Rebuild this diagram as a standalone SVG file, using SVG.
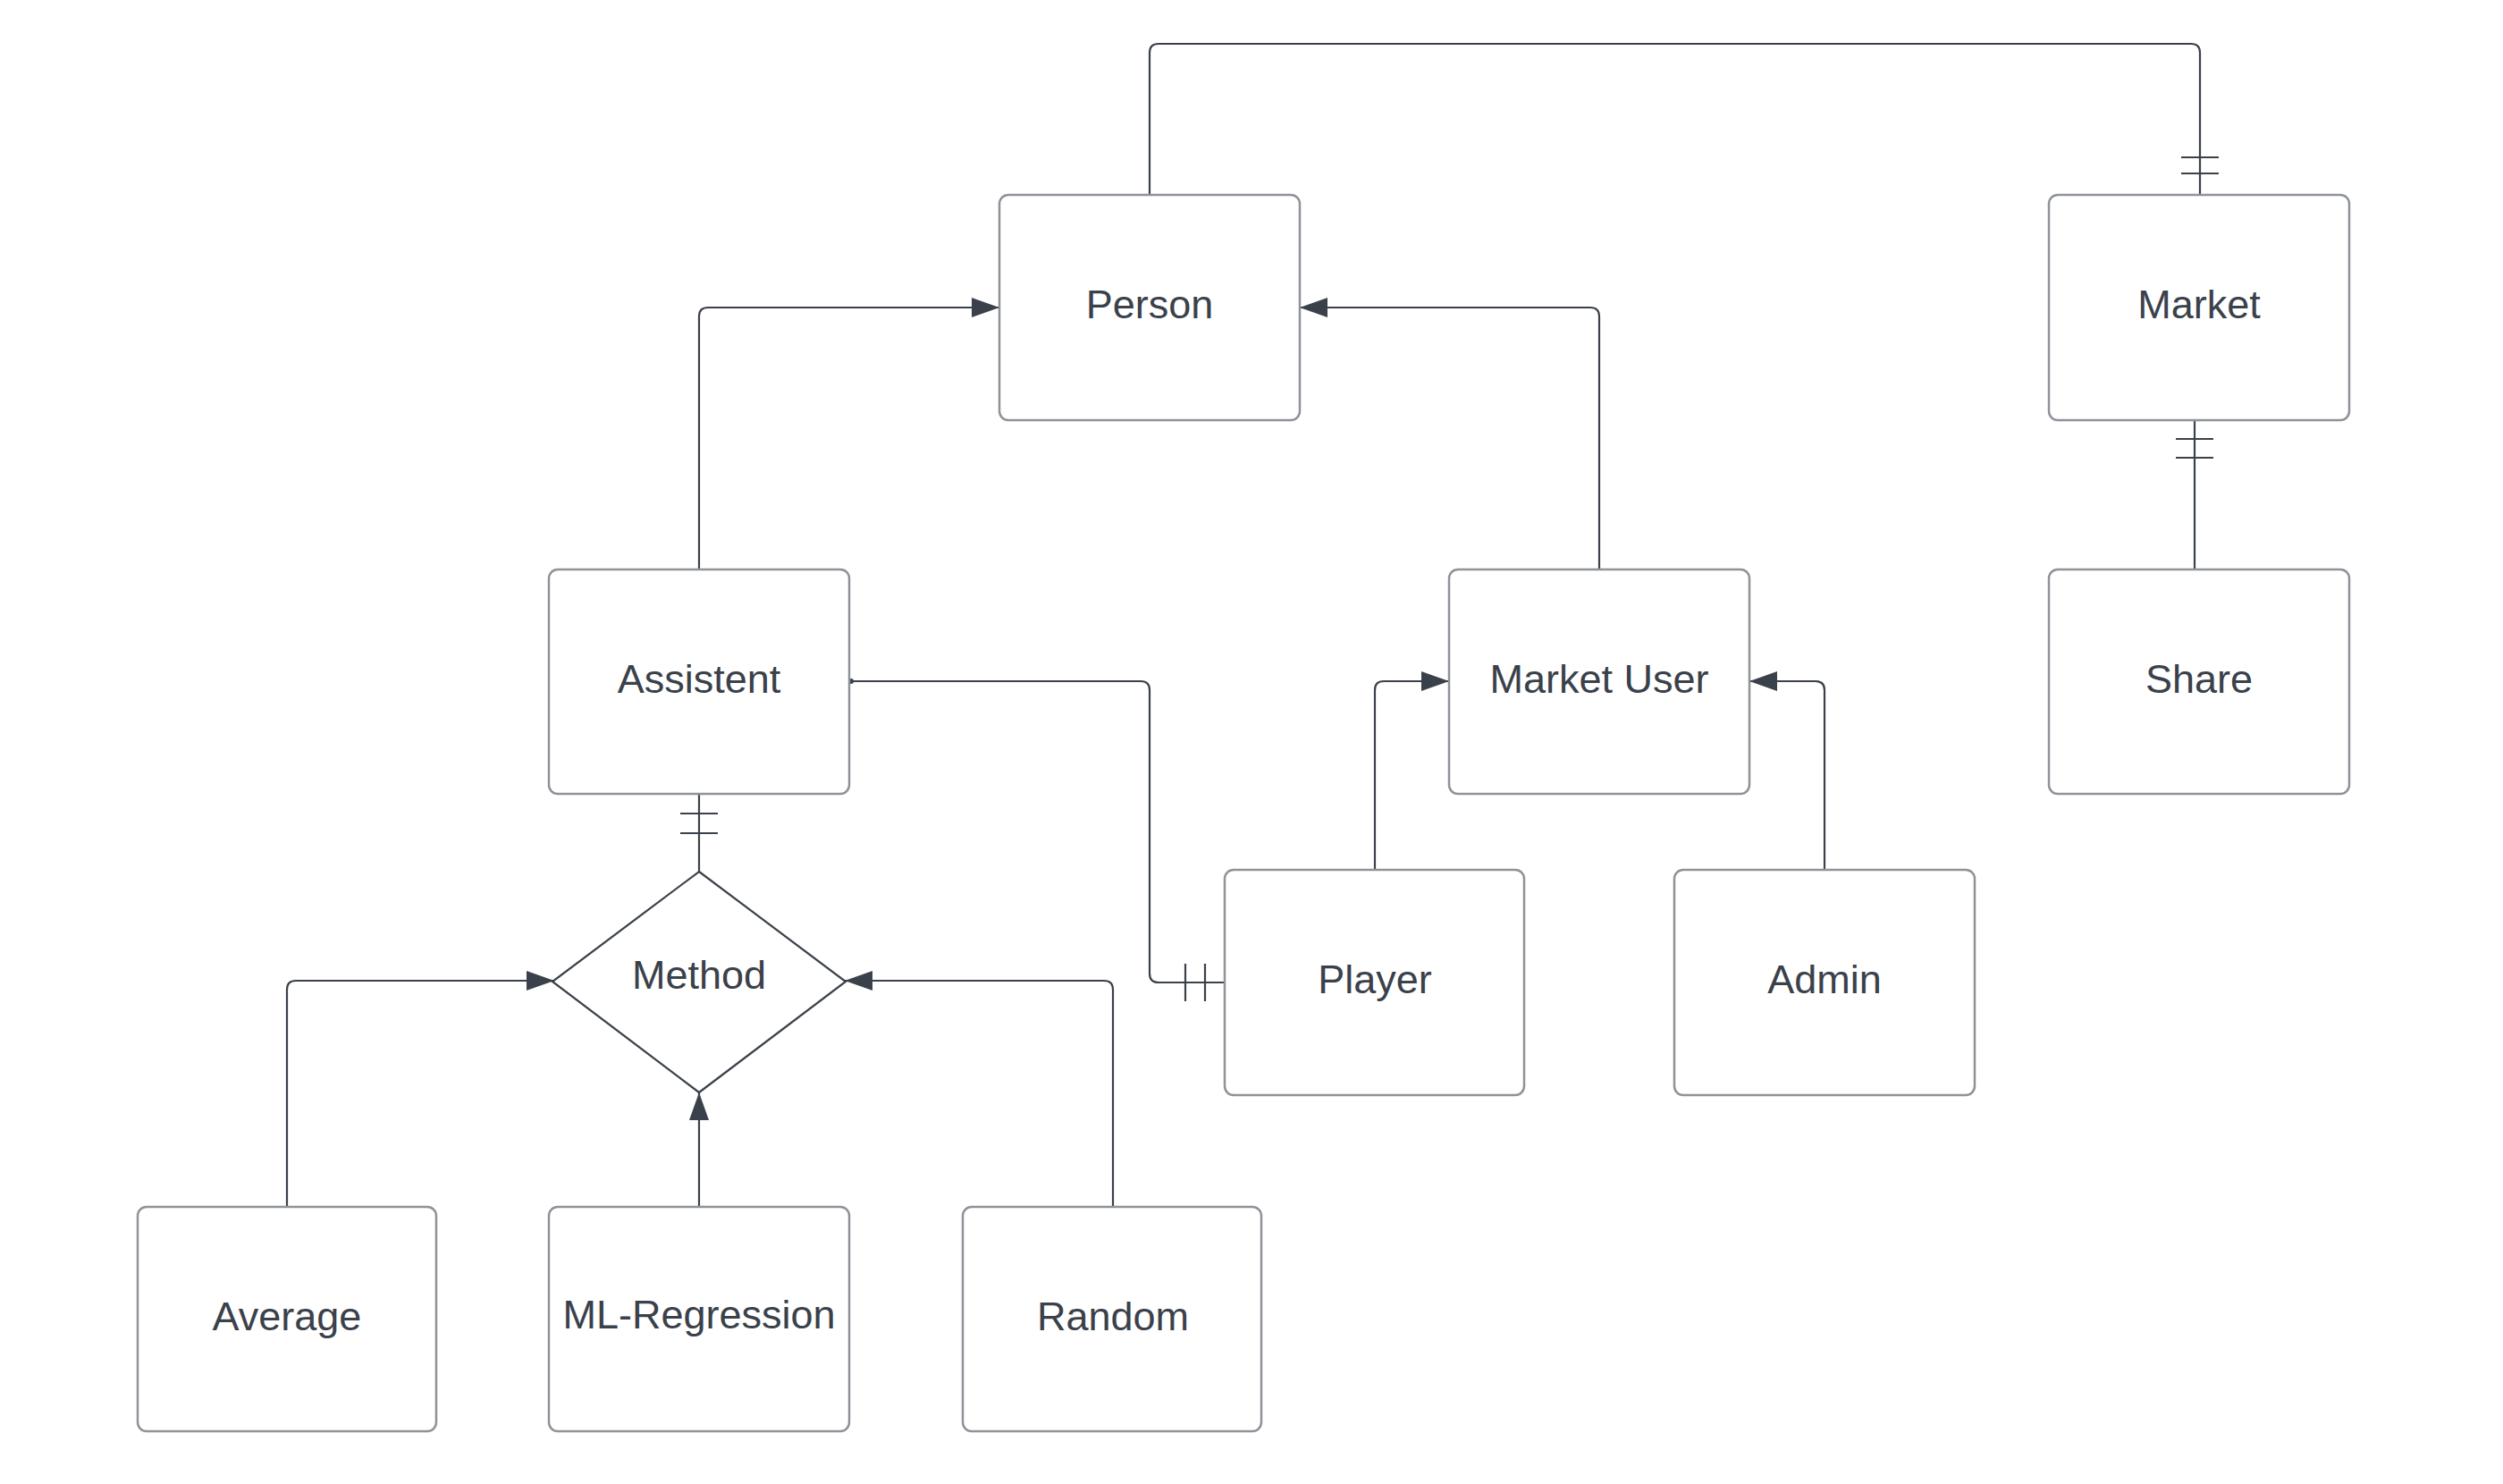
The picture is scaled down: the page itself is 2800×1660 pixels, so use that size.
<svg xmlns="http://www.w3.org/2000/svg" width="2800" height="1660" viewBox="0 0 2800 1660">
<style>
.box{fill:#ffffff;stroke:#8e9299;stroke-width:2.5}
.lbl{font-family:"Liberation Sans",Arial,sans-serif;font-size:45px;fill:#3a414a;text-anchor:middle;dominant-baseline:central}
.con{fill:none;stroke:#3a414a;stroke-width:2.2}
.tick{stroke:#3a414a;stroke-width:2.2}
.arr{fill:none;stroke:#3a414a;stroke-width:2.2;marker-end:url(#ah)}
</style>
<defs>
<marker id="ah" markerUnits="userSpaceOnUse" markerWidth="34" markerHeight="26" refX="31" refY="11" orient="auto">
<path d="M0,0 L31,11 L0,22 z" fill="#3a414a"/>
</marker>
</defs>
<rect width="2800" height="1660" fill="#ffffff"/>
<g id="connectors">
<path class="arr" d="M782,637 V354 Q782,344 792,344 H1118"/>
<path class="arr" d="M1789,637 V354 Q1789,344 1779,344 H1454"/>
<path class="con" d="M1286,218 V59 Q1286,49 1296,49 H2451 Q2461,49 2461,59 V218"/>
<line class="tick" x1="2440" y1="176" x2="2482" y2="176"/>
<line class="tick" x1="2440" y1="194" x2="2482" y2="194"/>
<path class="con" d="M2455,470 V637"/>
<line class="tick" x1="2434" y1="491" x2="2476" y2="491"/>
<line class="tick" x1="2434" y1="512" x2="2476" y2="512"/>
<path class="con" d="M952,762 H1276 Q1286,762 1286,772 V1089 Q1286,1099 1296,1099 H1370"/>
<circle cx="952" cy="762" r="3" fill="#3a414a"/>
<line class="tick" x1="1326" y1="1078" x2="1326" y2="1120"/>
<line class="tick" x1="1348" y1="1078" x2="1348" y2="1120"/>
<path class="arr" d="M1538,973 V772 Q1538,762 1548,762 H1621"/>
<path class="arr" d="M2041,973 V772 Q2041,762 2031,762 H1957"/>
<path class="con" d="M782,888 V975"/>
<line class="tick" x1="761" y1="910" x2="803" y2="910"/>
<line class="tick" x1="761" y1="932" x2="803" y2="932"/>
<path class="arr" d="M321,1350 V1107 Q321,1097 331,1097 H620"/>
<path class="arr" d="M1245,1350 V1107 Q1245,1097 1235,1097 H945"/>
<path class="arr" d="M782,1350 V1222"/>
</g>
<g id="person"><rect class="box" x="1118" y="218" width="336" height="252" rx="10"/><text class="lbl" x="1286" y="340">Person</text></g>
<g id="market"><rect class="box" x="2292" y="218" width="336" height="252" rx="10"/><text class="lbl" x="2460" y="340">Market</text></g>
<g id="assistent"><rect class="box" x="614" y="637" width="336" height="251" rx="10"/><text class="lbl" x="782" y="759">Assistent</text></g>
<g id="market-user"><rect class="box" x="1621" y="637" width="336" height="251" rx="10"/><text class="lbl" x="1789" y="759">Market User</text></g>
<g id="share"><rect class="box" x="2292" y="637" width="336" height="251" rx="10"/><text class="lbl" x="2460" y="759">Share</text></g>
<g id="method"><polygon points="782,975 946,1098 782,1222 618,1098" fill="#ffffff" stroke="#3a414a" stroke-width="2.2"/><text class="lbl" x="782" y="1090">Method</text></g>
<g id="player"><rect class="box" x="1370" y="973" width="335" height="252" rx="10"/><text class="lbl" x="1538" y="1095">Player</text></g>
<g id="admin"><rect class="box" x="1873" y="973" width="336" height="252" rx="10"/><text class="lbl" x="2041" y="1095">Admin</text></g>
<g id="average"><rect class="box" x="154" y="1350" width="334" height="251" rx="10"/><text class="lbl" x="321" y="1472">Average</text></g>
<g id="ml-regression"><rect class="box" x="614" y="1350" width="336" height="251" rx="10"/><text class="lbl" x="782" y="1470">ML-Regression</text></g>
<g id="random"><rect class="box" x="1077" y="1350" width="334" height="251" rx="10"/><text class="lbl" x="1245" y="1472">Random</text></g>
</svg>
